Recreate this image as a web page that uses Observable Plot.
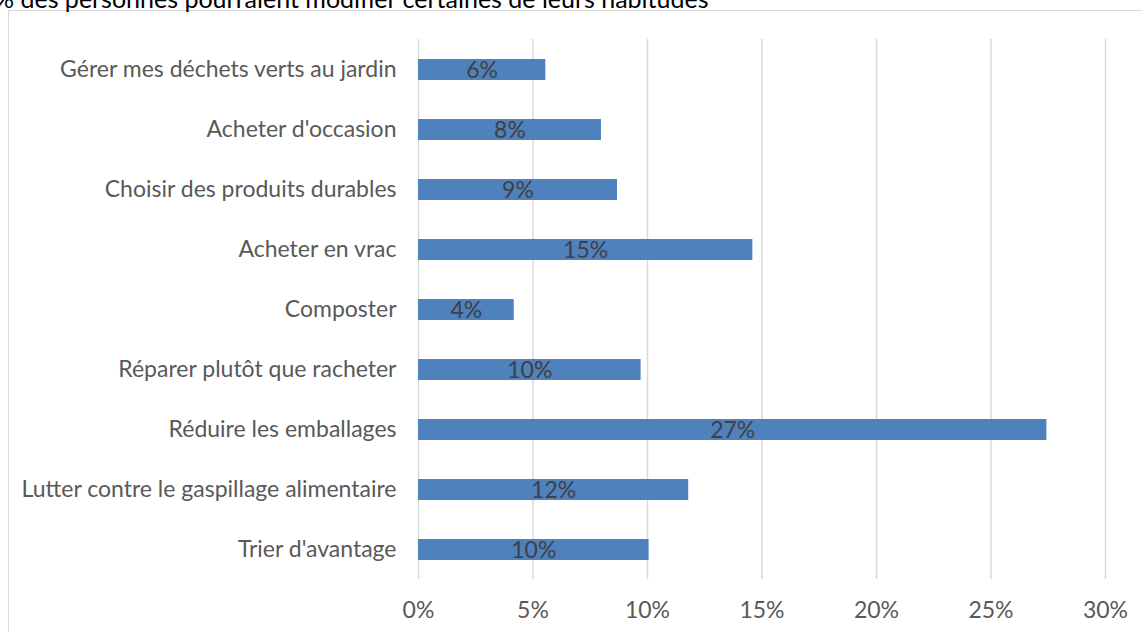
<!DOCTYPE html>
<html>
<head>
<meta charset="utf-8">
<script src="https://cdn.jsdelivr.net/npm/d3@7"></script>
<script src="https://cdn.jsdelivr.net/npm/@observablehq/plot@0.6"></script>
<style>
  html, body { margin: 0; padding: 0; background: #fff; overflow: hidden; }
  #wrap { position: relative; width: 1142px; height: 632px; overflow: hidden; }
  #box { position: absolute; left: 8px; top: 10px; width: 1300px; height: 800px; border: 1.5px solid #d9d9d9; box-sizing: border-box; }
  #title { position: absolute; left: -6px; top: -14px; font: 25px/1 Lato, "Open Sans", sans-serif; color: #000; white-space: nowrap; }
  #chart { position: absolute; left: 0; top: 0; }
</style>
</head>
<body>
<div id="wrap">
  <div id="box"></div>
  <div id="title">% des personnes pourraient modifier certaines de leurs habitudes</div>
  <div id="chart"></div>
</div>
<script>
const categories = [
  "Gérer mes déchets verts au jardin",
  "Acheter d'occasion",
  "Choisir des produits durables",
  "Acheter en vrac",
  "Composter",
  "Réparer plutôt que racheter",
  "Réduire les emballages",
  "Lutter contre le gaspillage alimentaire",
  "Trier d'avantage"
];
const values = [0.0556, 0.0799, 0.0869, 0.146, 0.0418, 0.0972, 0.2744, 0.118, 0.1007];
const xTicks = [0, 0.05, 0.10, 0.15, 0.20, 0.25, 0.30];

const data = categories.map((c, i) => ({category: c, value: values[i]}));
const pct = v => Math.round(v * 100) + "%";

const chart = Plot.plot({
  width: 1142,
  height: 632,
  marginLeft: 418,
  marginRight: 37,
  marginTop: 39,
  marginBottom: 53,
  style: {background: "transparent", fontFamily: "Lato, 'Open Sans', sans-serif", fontSize: "23px", color: "#595959"},
  x: {domain: [0, 0.30], ticks: xTicks, tickFormat: pct},
  y: {domain: categories, paddingInner: 0.65, paddingOuter: 0.325},
  marks: [
    Plot.gridX(xTicks, {stroke: "#d9d9d9", strokeOpacity: 1, strokeWidth: 1.5}),
    Plot.barX(data, {x: "value", y: "category", fill: "#4f81bd"}),
    Plot.text(data, {x: d => d.value / 2, y: "category", text: d => pct(d.value), fill: "#404040", fontSize: 23, dy: 1}),
    Plot.axisX(xTicks, {tickSize: 0, tickPadding: 22, tickFormat: pct, fontSize: 23, fill: "#595959", label: null}),
    Plot.axisY({tickSize: 0, tickPadding: 22, fontSize: 23, fill: "#595959", label: null})
  ]
});
document.getElementById("chart").appendChild(chart);
</script>
</body>
</html>
